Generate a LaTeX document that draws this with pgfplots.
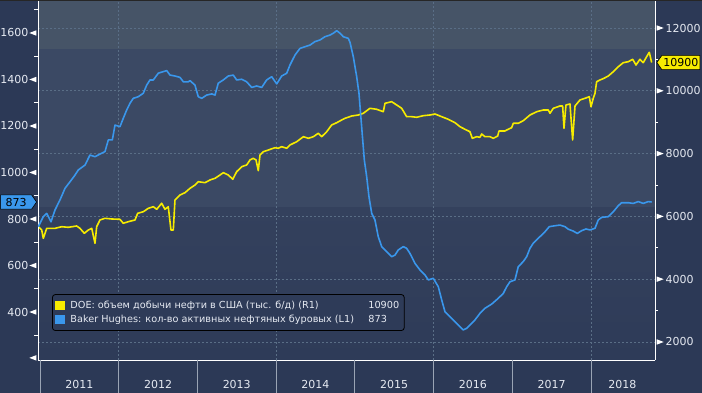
\documentclass[border=0pt]{standalone}
\usepackage{pgfplots}
\pgfplotsset{compat=1.18}
\usepackage{fontspec}
\setmainfont{DejaVu Sans}
\usetikzlibrary{shapes.symbols}
\definecolor{bgout}{HTML}{2C3956}
\definecolor{bandtop}{HTML}{465467}
\definecolor{bandmid}{HTML}{3B4964}
\definecolor{bandlowtop}{HTML}{34415D}
\definecolor{bandlowbot}{HTML}{2E3B58}
\definecolor{gridc}{HTML}{5A6E86}
\definecolor{yel}{HTML}{F7EC00}
\definecolor{blu}{HTML}{3A97EC}
\definecolor{tickc}{HTML}{E6EAF2}
\definecolor{sepc}{HTML}{9AA4B4}
\newcommand\lt{\tikz[baseline=-4pt]\fill[white] (0,0) -- (7pt,2.7pt) -- (7pt,-2.7pt) -- cycle;}
\newcommand\rt{\tikz[baseline=-4pt]\fill[white] (0,2.7pt) -- (7pt,0) -- (0,-2.7pt) -- cycle;}
\newcommand\tf{\fontsize{11}{13}\selectfont}
\begin{document}
\begin{tikzpicture}
\fill[bgout] (-38pt,-33pt) rectangle (664pt,360pt);
\fill[bandtop] (0pt,311pt) rectangle (617pt,360pt);
\fill[bandmid] (0pt,152pt) rectangle (617pt,311pt);
\shade[top color=bandlowtop, bottom color=bandlowbot] (0pt,0pt) rectangle (617pt,152pt);
% ---------- right axis: DOE production ----------
\begin{axis}[
  at={(0pt,0pt)}, anchor=south west,
  scale only axis, width=617pt, height=360pt,
  xmin=2010.9746, xmax=2018.8145,
  ymin=1426, ymax=12892,
  axis x line=none,
  axis y line*=right,
  axis line style={white, line width=0.9pt},
  ytick={2000,4000,6000,8000,10000,12000},
  yticklabels={\rt\hspace{2pt}2000,\rt\hspace{2pt}4000,\rt\hspace{2pt}6000,\rt\hspace{2pt}8000,\rt\hspace{2pt}10000,\rt\hspace{2pt}12000},
  minor ytick={3000,5000,7000,9000,11000},
  ymajorgrids,
  major grid style={gridc, dash pattern=on 2pt off 2pt, line width=0.6pt},
  tick align=outside,
  major tick length=0pt, minor tick length=3pt,
  minor tick style={white, line width=0.8pt},
  yticklabel style={font=\tf, text=tickc, inner sep=0pt, xshift=1.5pt},
  /pgf/number format/assume math mode=true,
  clip mode=individual,
]
\draw[gridc, dash pattern=on 2pt off 2pt, line width=0.6pt] (axis cs:2012,1426) -- (axis cs:2012,12892);
\draw[gridc, dash pattern=on 2pt off 2pt, line width=0.6pt] (axis cs:2014,1426) -- (axis cs:2014,12892);
\draw[gridc, dash pattern=on 2pt off 2pt, line width=0.6pt] (axis cs:2016,1426) -- (axis cs:2016,12892);
\draw[gridc, dash pattern=on 2pt off 2pt, line width=0.6pt] (axis cs:2018,1426) -- (axis cs:2018,12892);
\addplot[color=yel, line width=1.6pt, line join=round] table {
2010.978 5672
2011.022 5566
2011.042 5300
2011.085 5620
2011.191 5620
2011.276 5671
2011.360 5652
2011.466 5694
2011.508 5620
2011.563 5461
2011.614 5566
2011.657 5620
2011.699 5142
2011.720 5671
2011.762 5885
2011.826 5939
2011.911 5917
2012.016 5907
2012.058 5780
2012.122 5831
2012.207 5885
2012.241 6097
2012.313 6149
2012.376 6257
2012.440 6308
2012.483 6226
2012.546 6417
2012.588 6226
2012.630 6308
2012.664 5566
2012.694 5566
2012.715 6522
2012.779 6681
2012.842 6755
2012.906 6894
2012.969 7000
2013.011 7105
2013.096 7073
2013.160 7159
2013.224 7213
2013.287 7318
2013.329 7392
2013.393 7318
2013.449 7181
2013.499 7423
2013.563 7583
2013.626 7637
2013.668 7796
2013.710 7850
2013.745 7796
2013.774 7455
2013.795 7955
2013.837 8060
2013.901 8114
2013.986 8188
2014.028 8169
2014.071 8220
2014.135 8169
2014.176 8274
2014.262 8379
2014.346 8538
2014.409 8487
2014.473 8538
2014.536 8646
2014.579 8538
2014.643 8697
2014.706 8911
2014.770 8984
2014.833 9070
2014.875 9124
2014.961 9197
2015.044 9229
2015.108 9283
2015.193 9442
2015.278 9411
2015.362 9334
2015.384 9602
2015.469 9653
2015.532 9548
2015.596 9442
2015.659 9175
2015.723 9175
2015.786 9156
2015.870 9207
2015.955 9229
2016.019 9261
2016.104 9175
2016.188 9092
2016.273 8984
2016.336 8857
2016.400 8774
2016.463 8697
2016.493 8487
2016.549 8538
2016.590 8519
2016.612 8624
2016.654 8538
2016.718 8538
2016.760 8487
2016.816 8560
2016.832 8720
2016.908 8720
2016.930 8751
2016.993 8825
2017.014 8965
2017.077 8965
2017.141 9048
2017.226 9229
2017.311 9334
2017.395 9388
2017.459 9388
2017.480 9283
2017.522 9442
2017.607 9516
2017.641 9516
2017.658 8806
2017.683 9548
2017.734 9580
2017.768 8433
2017.798 9516
2017.861 9707
2017.925 9761
2017.980 9812
2018.001 9493
2018.030 9761
2018.052 9920
2018.073 10290
2018.115 10344
2018.166 10398
2018.221 10471
2018.284 10608
2018.348 10767
2018.411 10895
2018.475 10927
2018.531 11003
2018.573 10822
2018.623 11003
2018.665 10895
2018.708 11086
2018.742 11226
2018.772 10900
};
\node[signal, signal to=west, signal pointer angle=110, fill=yel, draw=black, line width=0.6pt,
      text=black, font=\tf, inner xsep=1.5pt, inner ysep=3pt, anchor=west]
      at (axis cs:2018.8145,10900) [xshift=1.5pt] {10900};
\end{axis}
% ---------- left axis: Baker Hughes ----------
\begin{axis}[
  at={(0pt,0pt)}, anchor=south west,
  scale only axis, width=617pt, height=360pt,
  xmin=2010.9746, xmax=2018.8145,
  ymin=193.6, ymax=1741.9,
  axis x line*=bottom, axis y line*=left,
  axis line style={white, line width=0.9pt},
  xtick={2011.5,2012.5,2013.5,2014.5,2015.5,2016.5,2017.5,2018.4},
  xticklabels={2011,2012,2013,2014,2015,2016,2017,2018},
  ytick={200,400,600,800,1000,1200,1400,1600},
  yticklabels={\lt,400\hspace{1pt}\lt,600\hspace{1pt}\lt,800\hspace{1pt}\lt,1000\hspace{1pt}\lt,1200\hspace{1pt}\lt,1400\hspace{1pt}\lt,1600\hspace{1pt}\lt},
  minor ytick={300,500,700,900,1100,1300,1500,1700},
  tick align=outside,
  major tick length=0pt, minor tick length=4pt,
  minor tick style={white, line width=0.8pt},
  xticklabel style={font=\tf, text=tickc, inner sep=0pt, anchor=north, yshift=-20pt},
  yticklabel style={font=\tf, text=tickc, inner sep=0pt, xshift=-1.5pt},
  /pgf/number format/assume math mode=true,
  clip mode=individual,
  legend style={at={(axis description cs:0.0227,0.0806)}, anchor=south west,
    fill=bandlowbot, draw=black, rounded corners=3pt, line width=0.8pt,
    font=\fontsize{9.7}{11}\selectfont, text=tickc, inner xsep=3pt, inner ysep=4.5pt,
    row sep=1pt, /tikz/every odd column/.append style={column sep=3pt}},
  legend cell align=left,
  legend image code/.code={\fill[#1, draw=none, sharp corners] (0pt,-4.5pt) rectangle (10pt,4.5pt);},
]
\draw[sepc, line width=0.8pt] (axis cs:2011,193.6) -- ++(0pt,-33pt);
\draw[sepc, line width=0.8pt] (axis cs:2012,193.6) -- ++(0pt,-33pt);
\draw[sepc, line width=0.8pt] (axis cs:2013,193.6) -- ++(0pt,-33pt);
\draw[sepc, line width=0.8pt] (axis cs:2014,193.6) -- ++(0pt,-33pt);
\draw[sepc, line width=0.8pt] (axis cs:2015,193.6) -- ++(0pt,-33pt);
\draw[sepc, line width=0.8pt] (axis cs:2016,193.6) -- ++(0pt,-33pt);
\draw[sepc, line width=0.8pt] (axis cs:2017,193.6) -- ++(0pt,-33pt);
\draw[sepc, line width=0.8pt] (axis cs:2018,193.6) -- ++(0pt,-33pt);
\addlegendimage{color=yel, line width=1.6pt}
\addlegendentry{\makebox[298pt][l]{DOE: объем добычи нефти в США (тыс. б/д) (R1)}10900}
\addplot[color=blu, line width=1.6pt, line join=round] table {
2010.978 767
2011.042 810
2011.085 824
2011.140 788
2011.191 839
2011.254 882
2011.318 932
2011.381 960
2011.445 989
2011.487 1011
2011.572 1032
2011.635 1075
2011.699 1068
2011.784 1083
2011.826 1090
2011.868 1140
2011.919 1140
2011.953 1204
2012.016 1197
2012.058 1233
2012.102 1269
2012.144 1298
2012.185 1319
2012.249 1326
2012.313 1341
2012.356 1376
2012.398 1398
2012.440 1398
2012.503 1427
2012.567 1434
2012.610 1438
2012.652 1419
2012.715 1415
2012.779 1409
2012.821 1390
2012.884 1390
2012.906 1395
2012.969 1376
2013.011 1326
2013.055 1319
2013.118 1333
2013.182 1338
2013.224 1333
2013.265 1384
2013.329 1398
2013.393 1415
2013.456 1419
2013.499 1398
2013.563 1401
2013.626 1390
2013.690 1366
2013.753 1372
2013.817 1366
2013.880 1398
2013.944 1412
2014.008 1381
2014.071 1415
2014.135 1427
2014.176 1462
2014.240 1505
2014.304 1534
2014.367 1541
2014.431 1548
2014.494 1563
2014.558 1570
2014.621 1584
2014.685 1591
2014.727 1599
2014.770 1610
2014.812 1599
2014.854 1584
2014.917 1577
2014.939 1560
2014.981 1498
2015.024 1412
2015.053 1341
2015.087 1197
2015.121 1054
2015.151 982
2015.180 896
2015.215 824
2015.256 796
2015.298 724
2015.342 681
2015.405 659
2015.469 638
2015.511 645
2015.553 667
2015.616 681
2015.659 674
2015.701 652
2015.765 609
2015.828 581
2015.892 559
2015.934 538
2015.997 545
2016.061 509
2016.104 452
2016.146 401
2016.209 380
2016.273 358
2016.336 337
2016.378 323
2016.422 330
2016.463 344
2016.527 366
2016.590 394
2016.654 416
2016.739 434
2016.823 459
2016.887 480
2016.930 509
2016.972 530
2017.035 538
2017.077 595
2017.141 617
2017.184 638
2017.226 674
2017.268 696
2017.331 717
2017.374 731
2017.416 745
2017.471 767
2017.543 771
2017.607 774
2017.671 767
2017.713 756
2017.776 748
2017.827 738
2017.883 750
2017.938 757
2017.988 753
2018.052 760
2018.094 796
2018.137 807
2018.221 810
2018.284 831
2018.348 857
2018.390 870
2018.475 870
2018.538 867
2018.602 875
2018.665 867
2018.729 875
2018.772 873
};
\addlegendentry{\makebox[298pt][l]{Baker Hughes: кол-во активных нефтяных буровых (L1)}873}
\node[signal, signal to=east, signal pointer angle=110, fill=blu, draw=black, line width=0.6pt,
      text=black, font=\tf, inner xsep=5pt, inner ysep=3pt, anchor=east]
      at (axis cs:2010.9746,873) [xshift=-1pt] {873};
\end{axis}
\draw[black!85, line width=1pt] (-38pt,359.5pt) -- (664pt,359.5pt);
\pgfresetboundingbox
\path[use as bounding box] (-38pt,-33pt) rectangle (664pt,360pt);
\end{tikzpicture}
\end{document}
